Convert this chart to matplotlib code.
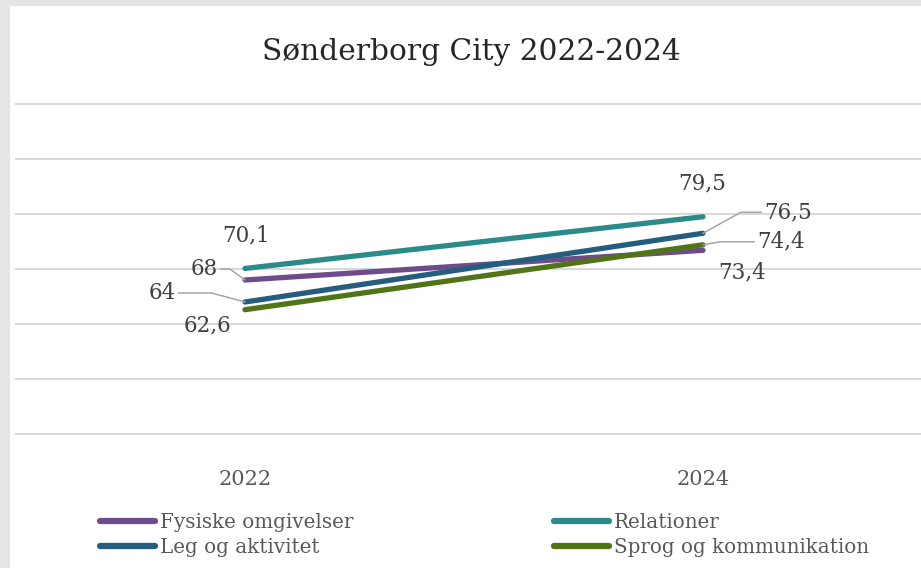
import matplotlib
matplotlib.use('Agg')
import matplotlib.pyplot as plt
from matplotlib.patches import Rectangle

# data
aar = ['2022', '2024']
serier = ['Fysiske omgivelser', 'Leg og aktivitet', 'Relationer', 'Sprog og kommunikation']
fysiske = [68, 73.4]
leg = [64, 76.5]
relationer = [70.1, 79.5]
sprog = [62.6, 74.4]
farver = ['#704b8c', '#245d7d', '#2b8b8a', '#4f7517']

plt.rcParams['font.family'] = ['DejaVu Serif']

fig = plt.figure(figsize=(9.21, 5.68), dpi=100, facecolor='#e5e5e5')
fig.patches.append(Rectangle((10/921, 0), 911/921, 562/568, transform=fig.transFigure,
                             facecolor='white', edgecolor='none', zorder=-10))

W, H = 921, 568
ax = fig.add_axes([16/W, (H-434)/H, 916/W, 330/H])
ax.set_zorder(1)
ax.set_facecolor('none')
x = [0.5, 1.5]
vaerdier = [fysiske, leg, relationer, sprog]
for navn, v, c in zip(serier, vaerdier, farver):
    ax.plot(x, v, color=c, lw=3.8, solid_capstyle='round', label=navn, zorder=3)

ax.set_xlim(0, 2)
ax.set_ylim(40, 100)
ax.set_yticks(range(40, 101, 10))
ax.yaxis.grid(True, color='#d9d9d9', lw=1.5)
for gl in ax.get_ygridlines():
    gl.set_clip_on(False)
ax.set_yticklabels([])
ax.tick_params(axis='y', length=0)
ax.set_xticks(x)
ax.set_xticklabels(aar, fontsize=15, color='#595959')
ax.tick_params(axis='x', length=0, pad=26)
for s in ax.spines.values():
    s.set_visible(False)
ax.set_axisbelow(True)

# datalabels med leader lines
lbl_col = '#404040'
lead = dict(arrowstyle='-', color='#a6a6a6', lw=1.1, shrinkA=0, shrinkB=0)

def label(xi, y, txt, dx, dy, conn=None):
    kw = {}
    if conn:
        kw['arrowprops'] = dict(lead, connectionstyle=conn)
    ax.annotate(txt, (x[xi], y), xytext=(dx, dy), textcoords='offset pixels',
                ha='center', va='center', fontsize=15.5, color=lbl_col, **kw)

fmt = lambda v: ('%g' % v).replace('.', ',')
label(0, relationer[0], fmt(relationer[0]), 1, 33)
label(0, fysiske[0], fmt(fysiske[0]), -41, 11, 'angle,angleA=0,angleB=144,rad=0')
label(0, leg[0], fmt(leg[0]), -83, 9, 'angle,angleA=0,angleB=165,rad=0')
label(0, sprog[0], fmt(sprog[0]), -38, -16)
label(1, relationer[1], fmt(relationer[1]), -1, 33)
label(1, leg[1], fmt(leg[1]), 85, 21, 'angle,angleA=180,angleB=29,rad=0')
label(1, sprog[1], fmt(sprog[1]), 78, 3, 'angle,angleA=180,angleB=10,rad=0')
label(1, fysiske[1], fmt(fysiske[1]), 39, -22)

fig.text(471/W, 1-52/H, 'Sønderborg City 2022-2024', ha='center', va='center',
         fontsize=21.3, color='#262626')

leg_ = ax.legend(loc='upper left', bbox_to_anchor=(100/W, 1-512.5/H), bbox_transform=fig.transFigure,
                 ncol=2, frameon=False, fontsize=14.3, handlelength=2.77, handletextpad=0.25,
                 labelspacing=0.34, columnspacing=10.1, borderpad=0, borderaxespad=0)
for t in leg_.get_texts():
    t.set_color('#595959')
for l in leg_.get_lines():
    l.set_linewidth(4.5)
    l.set_solid_capstyle('round')

fig.savefig('out.png', dpi=100, facecolor=fig.get_facecolor())
